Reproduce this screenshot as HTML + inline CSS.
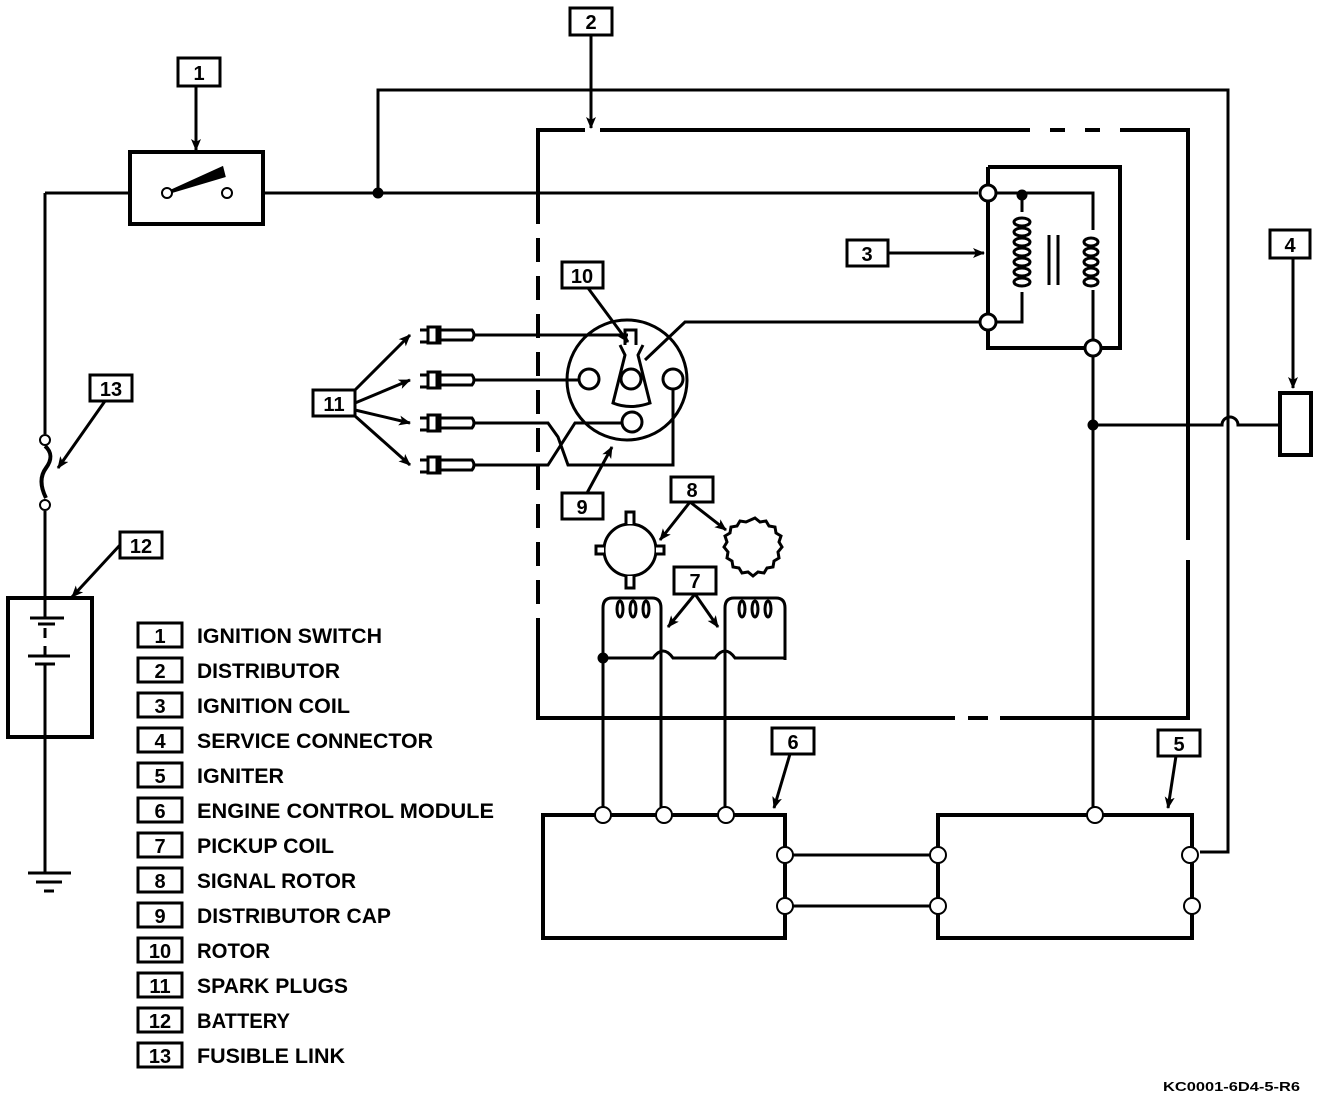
<!DOCTYPE html>
<html><head><meta charset="utf-8"><style>
html,body{margin:0;padding:0;background:#fff;}
svg{display:block;}
text{font-family:"Liberation Sans",sans-serif;font-weight:bold;fill:#000;}
</style></head><body>
<svg width="1328" height="1098" viewBox="0 0 1328 1098" xmlns="http://www.w3.org/2000/svg">
<defs>
<marker id="ah" markerWidth="12" markerHeight="10" refX="11" refY="5" orient="auto" markerUnits="userSpaceOnUse">
<path d="M0,0 L12,5 L0,10 L3,5 z" fill="#000"/>
</marker>
</defs>
<g fill="none" stroke="#000" stroke-width="3">
<g stroke-width="3">
<rect x="178" y="58" width="42" height="28"/>
<rect x="570" y="8" width="42" height="27"/>
<rect x="847" y="240" width="41" height="26"/>
<rect x="1270" y="230" width="40" height="28"/>
<rect x="562" y="262" width="41" height="26"/>
<rect x="313" y="390" width="42" height="26"/>
<rect x="90" y="375" width="42" height="26"/>
<rect x="562" y="493" width="41" height="26"/>
<rect x="671" y="477" width="42" height="25"/>
<rect x="674" y="567" width="42" height="27"/>
<rect x="120" y="532" width="42" height="26"/>
<rect x="772" y="728" width="42" height="26"/>
<rect x="1158" y="730" width="42" height="26"/>
</g>
<g stroke-width="3" marker-end="url(#ah)">
<line x1="196" y1="86" x2="196" y2="150"/>
<line x1="591" y1="35" x2="591" y2="128"/>
<line x1="888" y1="253" x2="984" y2="253"/>
<line x1="1293" y1="258" x2="1293" y2="388"/>
<line x1="588" y1="288" x2="628" y2="342"/>
<line x1="355" y1="390" x2="410" y2="335"/>
<line x1="355" y1="403" x2="410" y2="380"/>
<line x1="355" y1="410" x2="410" y2="423"/>
<line x1="355" y1="416" x2="410" y2="465"/>
<line x1="105" y1="401" x2="58" y2="468"/>
<line x1="587" y1="493" x2="612" y2="447"/>
<line x1="690" y1="502" x2="660" y2="540"/>
<line x1="690" y1="502" x2="726" y2="530"/>
<line x1="695" y1="594" x2="668" y2="627"/>
<line x1="695" y1="594" x2="718" y2="627"/>
<line x1="120" y1="545" x2="72" y2="597"/>
<line x1="790" y1="754" x2="774" y2="808"/>
<line x1="1176" y1="756" x2="1168" y2="808"/>
</g>
<rect x="130" y="152" width="133" height="72" stroke-width="4"/>
<path d="M45,193 H130 M263,193 H978"/>
<path d="M167,193 L222,168 L224,176 Z" fill="#000"/>
<circle cx="167" cy="193" r="5" fill="#fff" stroke-width="2"/>
<circle cx="227" cy="193" r="5" fill="#fff" stroke-width="2"/>
<path d="M378,193 V90 H1228 V852 H1200"/>
<circle cx="378" cy="193" r="4" fill="#000"/>
<path d="M45,193 V434 M45,511 V598 M45,737 V873"/>
<path d="M45,446 C52,452 52,460 46,468 C40,476 40,486 46,498" stroke-width="4"/>
<circle cx="45" cy="440" r="5" fill="#fff" stroke-width="2"/>
<circle cx="45" cy="505" r="5" fill="#fff" stroke-width="2"/>
<rect x="8" y="598" width="84" height="139" stroke-width="4"/>
<path d="M45,598 V618 M30,618 H64 M38,624 H55 M45,628 V638 M45,646 V656 M28,656 H70 M35,664 H55 M45,664 V737" stroke-width="3"/>
<path d="M28,873 H71 M36,882 H62 M44,891 H54" stroke-width="3"/>
<g stroke-width="4">
<path d="M538,200 V130 H585 M600,130 H1030 M1050,130 H1065 M1085,130 H1100 M1120,130 H1188 V540 M1188,560 V718 H1000 M988,718 H968 M955,718 H538 V620"/>
<path d="M538,200 V620" stroke-dasharray="24,14"/>
</g>
<path d="M988,167 H1120 V348 H1093 M988,167 V348 H1093" stroke-width="4"/>
<path d="M994,193 H1093 V230 M1022,193 V212 M994,322 H1022 V292"/>
<circle cx="1022" cy="195" r="4" fill="#000"/>
<g stroke-width="3">
<ellipse cx="1022" cy="222" rx="8" ry="4"/><ellipse cx="1022" cy="232" rx="8" ry="4"/><ellipse cx="1022" cy="242" rx="8" ry="4"/><ellipse cx="1022" cy="252" rx="8" ry="4"/><ellipse cx="1022" cy="262" rx="8" ry="4"/><ellipse cx="1022" cy="272" rx="8" ry="4"/><ellipse cx="1022" cy="282" rx="8" ry="4"/>
<ellipse cx="1091" cy="242" rx="7" ry="4"/><ellipse cx="1091" cy="252" rx="7" ry="4"/><ellipse cx="1091" cy="262" rx="7" ry="4"/><ellipse cx="1091" cy="272" rx="7" ry="4"/><ellipse cx="1091" cy="282" rx="7" ry="4"/>
</g>
<path d="M1093,290 V342"/>
<path d="M1049,235 V285 M1058,235 V285" stroke-width="3"/>
<circle cx="988" cy="193" r="8" fill="#fff" stroke-width="3"/>
<circle cx="988" cy="322" r="8" fill="#fff" stroke-width="3"/>
<circle cx="1093" cy="348" r="8" fill="#fff" stroke-width="3"/>
<path d="M980,322 H685 L645,360"/>
<path d="M1093,356 V807 M1093,425 H1222 a8,8 0 0 1 16,0 H1280"/>
<circle cx="1093" cy="425" r="4" fill="#000"/>
<rect x="1280" y="393" width="31" height="62" stroke-width="4"/>
<circle cx="627" cy="380" r="60" stroke-width="3"/>
<circle cx="589" cy="379" r="10" stroke-width="3"/>
<circle cx="631" cy="379" r="10" stroke-width="3"/>
<circle cx="673" cy="379" r="10" stroke-width="3"/>
<circle cx="632" cy="422" r="10" stroke-width="3"/>
<path d="M620,345 L625,355 L613,403 Q630,410 650,403 L638,355 L643,345" stroke-width="3"/>
<path d="M625,345 L625,330 L636,330 L636,345" stroke-width="3"/>
<g stroke-width="3">
<path d="M475,335 H628 M475,380 H579 M475,423 H548 L558,437 L568,465 H673 V389 M475,465 H548 L575,423 H622"/>
<path d="M420,330 h8 v12 h-8 M428,327 h12 v16 h-12 z M440,330 h32 q4,5 0,10 h-32 M437,327 v16"/>
<path d="M420,375 h8 v12 h-8 M428,372 h12 v16 h-12 z M440,375 h32 q4,5 0,10 h-32 M437,372 v16"/>
<path d="M420,418 h8 v12 h-8 M428,415 h12 v16 h-12 z M440,418 h32 q4,5 0,10 h-32 M437,415 v16"/>
<path d="M420,460 h8 v12 h-8 M428,457 h12 v16 h-12 z M440,460 h32 q4,5 0,10 h-32 M437,457 v16"/>
</g>
<circle cx="630" cy="550" r="26" stroke-width="3"/>
<path d="M626,524 V512 H634 V524 M626,576 V588 H634 V576 M604,546 H596 V554 H604 M656,546 H664 V554 H656" stroke-width="3" fill="#fff"/>
<path d="M755,518 l5,4 l6,-1 l3,5 l6,1 l1,6 l5,3 l-2,6 l3,5 l-4,5 l1,6 l-5,3 l-1,6 l-6,1 l-3,5 l-6,-1 l-5,4 l-5,-4 l-6,1 l-3,-5 l-6,-1 l-1,-6 l-5,-3 l1,-6 l-4,-5 l3,-5 l-2,-6 l5,-3 l1,-6 l6,-1 l3,-5 l6,1 z" stroke-width="3"/>
<path d="M603,815 V608 Q603,598 612,598 H652 Q661,598 661,608 V815" stroke-width="3"/>
<path d="M725,815 V608 Q725,598 734,598 H776 Q785,598 785,608 V660" stroke-width="3"/>
<g stroke-width="3">
<ellipse cx="620" cy="609" rx="3" ry="8"/><ellipse cx="633" cy="609" rx="3" ry="8"/><ellipse cx="646" cy="609" rx="3" ry="8"/>
<ellipse cx="742" cy="609" rx="3" ry="8"/><ellipse cx="755" cy="609" rx="3" ry="8"/><ellipse cx="768" cy="609" rx="3" ry="8"/>
</g>
<path d="M603,658 H653 q10,-14 20,0 H715 q10,-14 20,0 H785"/>
<circle cx="603" cy="658" r="4" fill="#000"/>
<path d="M543,815 H785 V938 H543 Z" stroke-width="4"/>
<path d="M938,815 H1192 V938 H938 Z" stroke-width="4"/>
<path d="M785,855 H938 M785,906 H938"/>
<g fill="#fff" stroke-width="2">
<circle cx="603" cy="815" r="8"/><circle cx="664" cy="815" r="8"/><circle cx="726" cy="815" r="8"/>
<circle cx="785" cy="855" r="8"/><circle cx="785" cy="906" r="8"/>
<circle cx="1095" cy="815" r="8"/><circle cx="938" cy="855" r="8"/><circle cx="938" cy="906" r="8"/>
<circle cx="1190" cy="855" r="8"/><circle cx="1192" cy="906" r="8"/>
</g>
<g stroke-width="3">
<rect x="138" y="623" width="44" height="24"/>
<rect x="138" y="658" width="44" height="24"/>
<rect x="138" y="693" width="44" height="24"/>
<rect x="138" y="728" width="44" height="24"/>
<rect x="138" y="763" width="44" height="24"/>
<rect x="138" y="798" width="44" height="24"/>
<rect x="138" y="833" width="44" height="24"/>
<rect x="138" y="868" width="44" height="24"/>
<rect x="138" y="903" width="44" height="24"/>
<rect x="138" y="938" width="44" height="24"/>
<rect x="138" y="973" width="44" height="24"/>
<rect x="138" y="1008" width="44" height="24"/>
<rect x="138" y="1043" width="44" height="24"/>
</g>
</g>
<g font-size="20" text-anchor="middle">
<text x="199" y="80">1</text>
<text x="591" y="29">2</text>
<text x="867" y="261">3</text>
<text x="1290" y="252">4</text>
<text x="582" y="283">10</text>
<text x="334" y="411">11</text>
<text x="111" y="396">13</text>
<text x="582" y="514">9</text>
<text x="692" y="497">8</text>
<text x="695" y="588">7</text>
<text x="141" y="553">12</text>
<text x="793" y="749">6</text>
<text x="1179" y="751">5</text>
<text x="160" y="643">1</text>
<text x="160" y="678">2</text>
<text x="160" y="713">3</text>
<text x="160" y="748">4</text>
<text x="160" y="783">5</text>
<text x="160" y="818">6</text>
<text x="160" y="853">7</text>
<text x="160" y="888">8</text>
<text x="160" y="923">9</text>
<text x="160" y="958">10</text>
<text x="160" y="993">11</text>
<text x="160" y="1028">12</text>
<text x="160" y="1063">13</text>
</g>
<g font-size="21">
<text x="197" y="643" textLength="185" lengthAdjust="spacingAndGlyphs">IGNITION SWITCH</text>
<text x="197" y="678" textLength="143" lengthAdjust="spacingAndGlyphs">DISTRIBUTOR</text>
<text x="197" y="713" textLength="153" lengthAdjust="spacingAndGlyphs">IGNITION COIL</text>
<text x="197" y="748" textLength="236" lengthAdjust="spacingAndGlyphs">SERVICE CONNECTOR</text>
<text x="197" y="783" textLength="87" lengthAdjust="spacingAndGlyphs">IGNITER</text>
<text x="197" y="818" textLength="297" lengthAdjust="spacingAndGlyphs">ENGINE CONTROL MODULE</text>
<text x="197" y="853" textLength="137" lengthAdjust="spacingAndGlyphs">PICKUP COIL</text>
<text x="197" y="888" textLength="159" lengthAdjust="spacingAndGlyphs">SIGNAL ROTOR</text>
<text x="197" y="923" textLength="194" lengthAdjust="spacingAndGlyphs">DISTRIBUTOR CAP</text>
<text x="197" y="958" textLength="73" lengthAdjust="spacingAndGlyphs">ROTOR</text>
<text x="197" y="993" textLength="151" lengthAdjust="spacingAndGlyphs">SPARK PLUGS</text>
<text x="197" y="1028" textLength="93" lengthAdjust="spacingAndGlyphs">BATTERY</text>
<text x="197" y="1063" textLength="148" lengthAdjust="spacingAndGlyphs">FUSIBLE LINK</text>
</g>
<text x="1163" y="1091" font-size="13" textLength="137" lengthAdjust="spacingAndGlyphs">KC0001-6D4-5-R6</text>
</svg>
</body></html>
